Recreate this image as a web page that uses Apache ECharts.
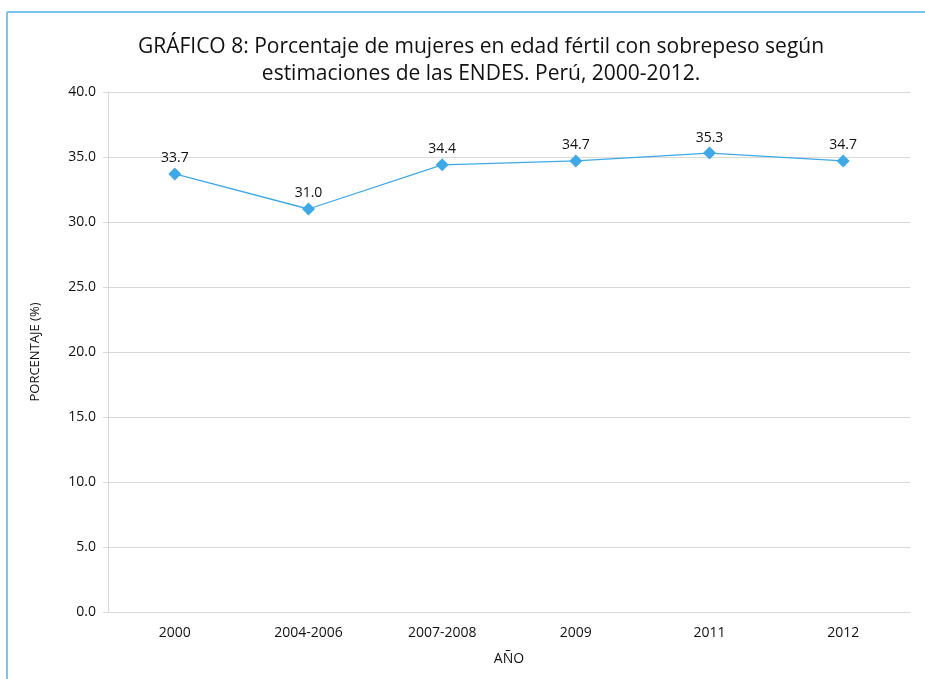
<!DOCTYPE html>
<html>
<head>
<meta charset="utf-8">
<script src="https://cdn.jsdelivr.net/npm/echarts@6/dist/echarts.min.js"></script>
<style>
	html, body { margin: 0; padding: 0; background: #fff; }
	#chart-div { width: 925px; height: 679px; }
</style>
</head>
<body>
<div id="chart-div"></div>
<script>
// 数据
var g_categories = ["2000", "2004-2006", "2007-2008", "2009", "2011", "2012"];
var g_values = [33.7, 31.0, 34.4, 34.7, 35.3, 34.7];
var g_title_lines = [
	"GRÁFICO 8: Porcentaje de mujeres en edad fértil con sobrepeso según",
	"estimaciones de las ENDES. Perú, 2000-2012."
];

var g_font = "Open Sans, Noto Sans, sans-serif";

var g_chart = echarts.init(document.getElementById("chart-div"));

var g_option = {
	animation: false,
	title: {
		text: g_title_lines.join("\n"),
		left: 476,
		top: 29,
		textAlign: "center",
		textStyle: {
			fontFamily: g_font,
			fontWeight: "normal",
			fontSize: 21,
			lineHeight: 27,
			color: "#111"
		}
	},
	// 外框（左、上）
	graphic: [
		{
			type: "line",
			shape: { x1: 7, y1: 12, x2: 7, y2: 679 },
			style: { stroke: "#7cc3ef", lineWidth: 2 }
		},
		{
			type: "line",
			shape: { x1: 7, y1: 12, x2: 925, y2: 12 },
			style: { stroke: "#7cc3ef", lineWidth: 2 }
		}
	],
	grid: {
		left: 108,
		right: 15,
		top: 92,
		bottom: 67
	},
	xAxis: {
		type: "category",
		data: g_categories,
		name: "AÑO",
		nameLocation: "middle",
		nameGap: 40,
		nameTextStyle: { fontFamily: g_font, fontSize: 14, color: "#111" },
		axisLine: { lineStyle: { color: "#d9d9d9" } },
		axisTick: { show: false },
		axisLabel: {
			margin: 14,
			fontFamily: g_font,
			fontSize: 14,
			color: "#111"
		}
	},
	yAxis: {
		type: "value",
		min: 0,
		max: 40,
		interval: 5,
		name: "PORCENTAJE (%)",
		nameLocation: "middle",
		nameGap: 66,
		nameTextStyle: { fontFamily: g_font, fontSize: 13, color: "#111" },
		axisLine: { show: true, lineStyle: { color: "#d9d9d9" } },
		axisTick: { show: true, length: 5, lineStyle: { color: "#d9d9d9" } },
		splitLine: { lineStyle: { color: "#d9d9d9" } },
		axisLabel: {
			margin: 12,
			fontFamily: g_font,
			fontSize: 14,
			color: "#111",
			formatter: function (v) { return v.toFixed(1); }
		}
	},
	series: [
		{
			type: "line",
			data: g_values,
			symbol: "diamond",
			symbolSize: 13,
			itemStyle: { color: "#3fa9e8" },
			lineStyle: { color: "#3fa9e8", width: 1.3 },
			label: {
				show: true,
				position: "top",
				distance: 2,
				fontFamily: g_font,
				fontSize: 14,
				color: "#111",
				formatter: function (p) { return p.value.toFixed(1); }
			}
		}
	]
};

g_chart.setOption(g_option);
window.addEventListener("resize", g_chart.resize);
</script>
</body>
</html>
